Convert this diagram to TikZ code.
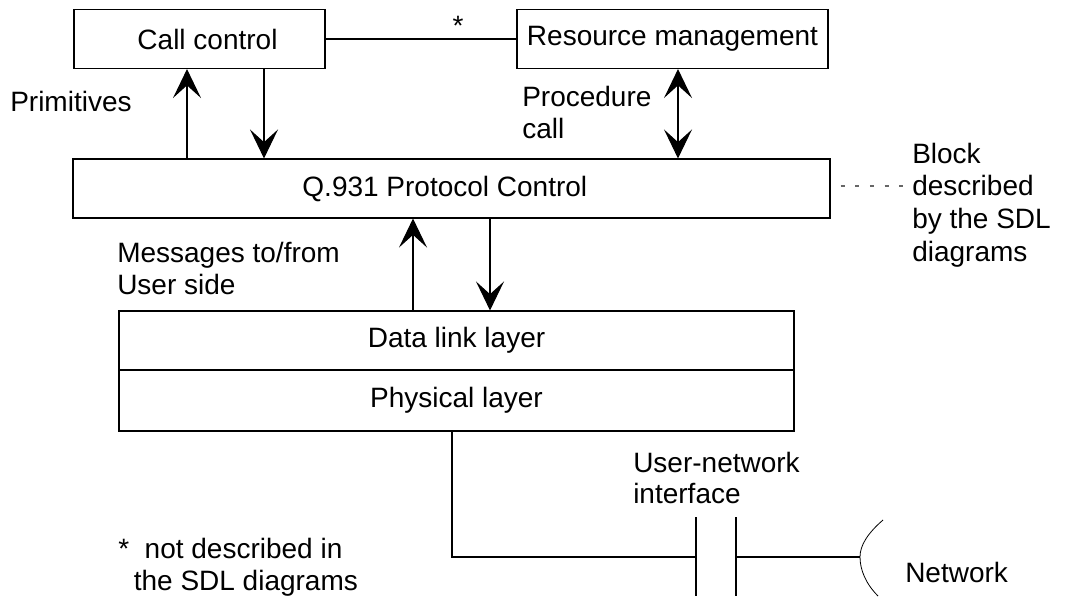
\documentclass[tikz,border=0pt]{standalone}
\usepackage{fontspec}
\setmainfont{Liberation Sans}
\usetikzlibrary{arrows.meta}
\begin{document}
\begin{tikzpicture}[x=0.75pt,y=-0.75pt,
  font=\fontsize{21pt}{24pt}\selectfont,
  box/.style={draw,line width=0.8pt,inner sep=0pt,minimum width=#1},
  lbl/.style={inner sep=0pt,align=left,anchor=north west},
  wire/.style={line width=0.8pt},
  tip/.style={Stealth[length=21.75pt,width=21pt,inset=9.5pt]},
  arr/.style={line width=0.8pt,-{Stealth[length=21.75pt,width=21pt,inset=9.5pt]}},
  darr/.style={line width=0.8pt,{Stealth[length=21.75pt,width=21pt,inset=9.5pt]}-{Stealth[length=21.75pt,width=21pt,inset=9.5pt]}}]
\useasboundingbox (0,0) rectangle (1066,596);
% boxes
\node[box=251*0.75pt,minimum height=59*0.75pt] (cc) at (199.5,39) {\hspace*{12pt}Call control};
\node[box=311*0.75pt,minimum height=59*0.75pt] (rm) at (672.5,39) {Resource management};
\node[box=757*0.75pt,minimum height=59*0.75pt] (pc) at (451.5,188.5) {Q.931 Protocol Control\hspace*{10pt}};
\node[box=675*0.75pt,minimum height=59*0.75pt] (dl) at (456.5,340.5) {Data link layer};
\node[box=675*0.75pt,minimum height=61*0.75pt] (ph) at (456.5,400.5) {Physical layer};
% labels
\node[inner sep=0pt,anchor=base] (star) at (458,36) {*};
\node[inner sep=0pt,anchor=base west] (prim) at (10,111) {Primitives};
\node[lbl] (proc) at (522,85.5) {Procedure\\call};
\node[lbl] (msg) at (117,241.5) {Messages to/from\\User side};
\node[lbl,font=\fontsize{21pt}{24.5pt}\selectfont] (blk) at (912,142.5) {Block\\described\\by the SDL\\diagrams};
\node[lbl,font=\fontsize{21pt}{23.5pt}\selectfont] (uni) at (633,451.5) {User-network\\interface};
\node[lbl,font=\fontsize{21pt}{24pt}\selectfont] (note) at (118,538) {*\ \ not described in\\\ \ the SDL diagrams};
\node[inner sep=0pt,anchor=base west] (net) at (905,582) {Network};
% connectors
\draw[wire] (cc.east) -- (rm.west);
\draw[arr] (pc.north -| 187,0) -- (cc.south -| 187,0);
\draw[arr] (cc.south -| 264,0) -- (pc.north -| 264,0);
\draw[darr] (rm.south -| 678,0) -- (pc.north -| 678,0);
\draw[arr] (dl.north -| 413,0) -- (pc.south -| 413,0);
\draw[arr] (pc.south -| 490,0) -- (dl.north -| 490,0);
\coordinate (bl) at (905,186);
\draw[line width=0.8pt,gray!80!black,dash pattern=on 3pt off 8pt] ([xshift=7.5pt]pc.east |- bl) -- (bl);
% interface
\coordinate (ia) at (696,557);
\coordinate (ib) at (736,557);
\coordinate (nw) at (860,557);
\draw[wire] (ph.south -| 452,0) |- (ia);
\draw[wire] (696,517) -- (696,596);
\draw[wire] (736,517) -- (736,596);
\draw[wire] (ib) -- (nw);
\draw[line width=0.6pt] (883,520) .. controls (868,533) and (860,545) .. (nw) .. controls (860,570) and (866,584) .. (878,596);
\end{tikzpicture}
\end{document}
